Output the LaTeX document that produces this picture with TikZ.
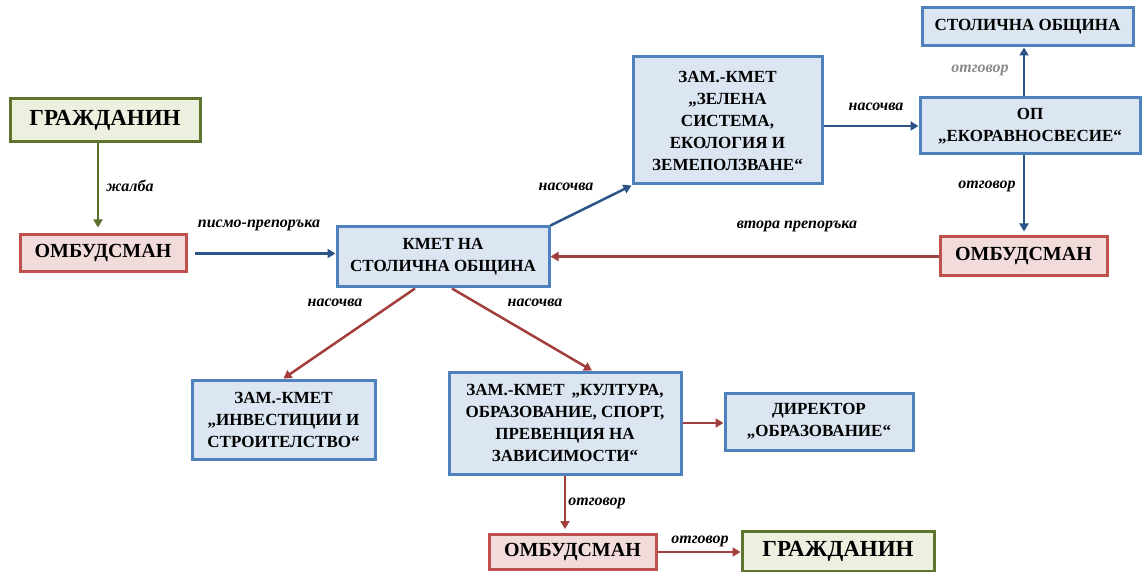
\documentclass[tikz,border=0pt]{standalone}
\usepackage{fontspec}
\setmainfont{Liberation Serif}
\usetikzlibrary{arrows.meta}
\definecolor{bbord}{HTML}{4F81BD}
\definecolor{bfill}{HTML}{DCE6F2}
\definecolor{rbord}{HTML}{C0504D}
\definecolor{rfill}{HTML}{F2DCDB}
\definecolor{gbord}{HTML}{5E7530}
\definecolor{gfill}{HTML}{EBF1DE}
\definecolor{barrow}{HTML}{2C5486}
\definecolor{rarrow}{HTML}{A23E3B}
\definecolor{garrow}{HTML}{5A6E2E}
\definecolor{greylab}{HTML}{8A8A8A}
\tikzset{
  box/.style={draw, line width=3pt, align=center, inner sep=2pt,
    font=\bfseries\fontsize{17}{22}\selectfont},
  bluebox/.style={box, draw=bbord, fill=bfill},
  redbox/.style={box, draw=rbord, fill=rfill, font=\bfseries\fontsize{20}{24}\selectfont},
  greenbox/.style={box, draw=gbord, fill=gfill, font=\bfseries\fontsize{23}{26}\selectfont},
  arr/.style={line width=2.5pt, -{Triangle[width=9pt,length=8pt]}},
  barr/.style={arr, draw=barrow},
  rarr/.style={arr, draw=rarrow},
  garr/.style={arr, draw=garrow},
  lab/.style={font=\bfseries\itshape\fontsize{16}{18}\selectfont, inner sep=0pt}
}
\begin{document}
\begin{tikzpicture}[x=1pt,y=-1pt]
\useasboundingbox (0,0) rectangle (1144,572);
% boxes
\node[greenbox, minimum width=190pt, minimum height=43pt] (cit1) at (105,120.5) {ГРАЖДАНИН};
\node[redbox, minimum width=166pt, minimum height=37pt] (omb1) at (103,253.5) {ОМБУДСМАН};
\node[bluebox, minimum width=212pt, minimum height=60pt] (mayor) at (443,257) {КМЕТ НА\\СТОЛИЧНА ОБЩИНА};
\node[bluebox, minimum width=189pt, minimum height=127pt] (green) at (727.5,120.5) {ЗАМ.-КМЕТ\\„ЗЕЛЕНА\\СИСТЕМА,\\ЕКОЛОГИЯ И\\ЗЕМЕПОЛЗВАНЕ“};
\node[bluebox, minimum width=220pt, minimum height=56pt] (op) at (1030,126) {ОП\\„ЕКОРАВНОСВЕСИЕ“};
\node[bluebox, minimum width=211pt, minimum height=38pt] (so) at (1027.5,27) {СТОЛИЧНА ОБЩИНА};
\node[redbox, minimum width=167pt, minimum height=39pt] (omb2) at (1023.5,256.5) {ОМБУДСМАН};
\node[bluebox, minimum width=183pt, minimum height=79pt] (inv) at (283.5,419.5) {ЗАМ.-КМЕТ\\„ИНВЕСТИЦИИ И\\СТРОИТЕЛСТВО“};
\node[bluebox, minimum width=232pt, minimum height=102pt] (kult) at (565,423) {ЗАМ.-КМЕТ \,„КУЛТУРА,\\ОБРАЗОВАНИЕ, СПОРТ,\\ПРЕВЕНЦИЯ НА\\ЗАВИСИМОСТИ“};
\node[bluebox, minimum width=188pt, minimum height=57pt] (dir) at (819,421.5) {ДИРЕКТОР\\„ОБРАЗОВАНИЕ“};
\node[redbox, minimum width=167pt, minimum height=35pt] (omb3) at (572.5,552) {ОМБУДСМАН};
\node[greenbox, minimum width=192pt, minimum height=40pt] (cit2) at (838,551) {ГРАЖДАНИН};
% connectors
\draw[garr, shorten >=6pt] ([xshift=-7pt]cit1.south) -- ([xshift=-7pt]cit1.south |- omb1.north);
\draw[barr, shorten <=7pt] (omb1.east) -- (omb1.east -| mayor.west);
\draw[barr] (mayor.north east) -- (green.south west);
\draw[barr] (op.west -| green.east) -- (op.west);
\draw[barr] ([xshift=-6pt]op.north) -- ([xshift=-6pt]op.north |- so.south);
\draw[barr, shorten >=4pt] ([xshift=-6pt]op.south) -- ([xshift=-6pt]op.south |- omb2.north);
\draw[rarr] (omb2.west) -- (omb2.west -| mayor.east);
\draw[rarr] ([xshift=-28pt]mayor.south) -- (inv.north);
\draw[rarr] ([xshift=9pt]mayor.south) -- ([xshift=27pt]kult.north);
\draw[rarr] (kult.east) -- (kult.east -| dir.west);
\draw[rarr, shorten >=4pt] (kult.south) -- (kult.south |- omb3.north);
\draw[rarr] (omb3.east) -- (omb3.east -| cit2.west);
% labels
\node[lab] (l1) at (130,186) {жалба};
\node[lab] (l2) at (259,225) {писмо-препоръка};
\node[lab] (l3) at (566,187) {насочва};
\node[lab] (l4) at (876,107) {насочва};
\node[lab, text=greylab] (l5) at (980,70) {отговор};
\node[lab] (l6) at (987,186) {отговор};
\node[lab] (l7) at (797,226) {втора препоръка};
\node[lab] (l8) at (335,303) {насочва};
\node[lab] (l9) at (535,303) {насочва};
\node[lab] (l10) at (597,503) {отговор};
\node[lab] (l11) at (700,541) {отговор};
\end{tikzpicture}
\end{document}
